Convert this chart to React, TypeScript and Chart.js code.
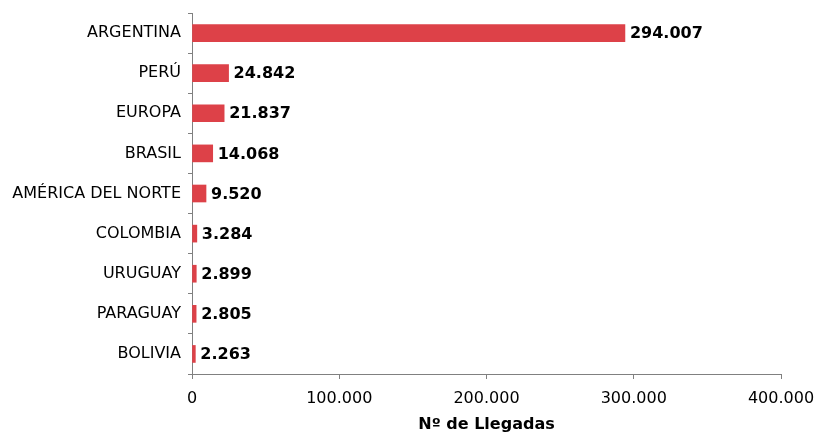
import React, { useEffect, useRef } from "react";
import { Chart, registerables } from "chart.js";

Chart.register(...registerables);

const categories = [
  "ARGENTINA",
  "PERÚ",
  "EUROPA",
  "BRASIL",
  "AMÉRICA DEL NORTE",
  "COLOMBIA",
  "URUGUAY",
  "PARAGUAY",
  "BOLIVIA",
];
const llegadas = [294007, 24842, 21837, 14068, 9520, 3284, 2899, 2805, 2263];
const xTicks = [0, 100000, 200000, 300000, 400000];
const axisTitle = "Nº de Llegadas";

const fmt = (v: number) =>
  Math.round(v)
    .toString()
    .replace(/\B(?=(\d{3})+(?!\d))/g, ".");

const FONT = "'DejaVu Sans', Verdana, sans-serif";

const valueLabels = {
  id: "valueLabels",
  afterDatasetsDraw(chart: any) {
    const { ctx } = chart;
    const meta = chart.getDatasetMeta(0);
    ctx.save();
    ctx.font = `bold 16px ${FONT}`;
    ctx.fillStyle = "#000";
    ctx.textAlign = "left";
    ctx.textBaseline = "middle";
    meta.data.forEach((bar: any, i: number) => {
      const v = chart.data.datasets[0].data[i];
      ctx.fillText(fmt(v), bar.x + 5, bar.y + 1);
    });
    ctx.restore();
  },
};

export default function App() {
  const ref = useRef<HTMLCanvasElement>(null);
  useEffect(() => {
    document.body.style.margin = "0";
    const chart = new Chart(ref.current!, {
      type: "bar",
      data: {
        labels: categories,
        datasets: [
          {
            data: llegadas,
            backgroundColor: "#DD4148",
            barThickness: 17,
          },
        ],
      },
      options: {
        indexAxis: "y",
        animation: false,
        responsive: false,
        layout: { padding: { left: 0, right: 34, top: 13, bottom: 0 } },
        plugins: { legend: { display: false }, tooltip: { enabled: false } },
        scales: {
          x: {
            min: 0,
            max: 400000,
            afterBuildTicks: (s: any) => {
              s.ticks = xTicks.map((v) => ({ value: v }));
            },
            afterFit: (s: any) => {
              s.height = 60;
              s.paddingLeft = 0;
              s.paddingRight = 0;
            },
            grid: {
              drawOnChartArea: false,
              tickLength: 5,
              color: "#808080",
            },
            border: { color: "#808080", width: 1 },
            ticks: {
              font: { family: FONT, size: 16 },
              color: "#000",
              padding: 10,
              maxRotation: 0,
              callback: (v: any) => fmt(Number(v)),
            },
            title: {
              display: true,
              text: axisTitle,
              font: { family: FONT, size: 16, weight: "bold" },
              color: "#000",
              padding: { top: 0, bottom: 0 },
            },
          },
          y: {
            afterFit: (s: any) => {
              s.width = 192;
              s.paddingTop = 0;
              s.paddingBottom = 0;
            },
            grid: {
              drawOnChartArea: false,
              tickLength: 4,
              color: "#808080",
              offset: true,
            },
            border: { color: "#808080", width: 1 },
            ticks: {
              font: { family: FONT, size: 16 },
              color: "#000",
              padding: 7,
            },
          },
        },
      },
      plugins: [valueLabels],
    });
    return () => chart.destroy();
  }, []);
  return (
    <div style={{ width: 815, height: 434 }}>
      <canvas ref={ref} width={815} height={434} />
    </div>
  );
}
